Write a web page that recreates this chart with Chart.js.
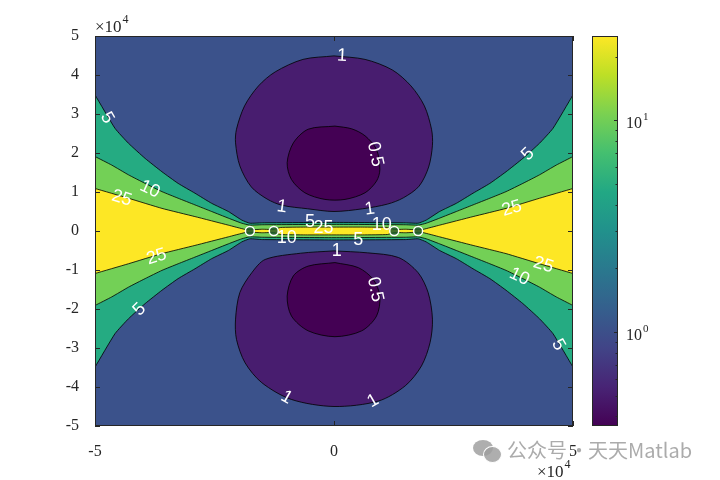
<!DOCTYPE html>
<html>
<head>
<meta charset="utf-8">
<script src="https://cdn.jsdelivr.net/npm/chart.js@4.4.1/dist/chart.umd.min.js"></script>
<style>
  html, body { margin: 0; padding: 0; background: #fff; }
  #wrap { position: relative; width: 720px; height: 480px; }
  .wm { position: absolute; font-family: "Noto Sans CJK SC", sans-serif; font-size: 20px; line-height: 20px; color: rgba(150,150,150,0.8); white-space: nowrap; }
  .bub { position: absolute; border-radius: 50%; background: rgba(160,160,160,0.85); }
</style>
</head>
<body>
<div id="wrap">
  <canvas id="contour" width="720" height="480"></canvas>
  <div class="bub" style="left:473px;top:440px;width:20px;height:16px;"></div>
  <div class="bub" style="left:483px;top:446px;width:17px;height:15px;border:1.5px solid #fff;"></div>
  <div class="wm" style="left:507px;top:440px;">公众号</div>
  <div class="wm" style="left:569px;top:440px;">·</div>
  <div class="wm" style="left:588px;top:440px;">天天Matlab</div>
</div>
<script>
// contour fill colours: <0.5, 0.5-1, 1-5, 5-10, 10-25, >25
const bandColors = ['#440154', '#481d6f', '#3b528b', '#25ab82', '#73d056', '#fde725'];

// contour polygons, x and y in units of 1e4
const fiveRegion = [[-5.2,3.9],[-5,3.49],[-4.58,2.63],[-4.3,2.25],[-3.95,1.86],[-3.6,1.52],[-3.26,1.22],[-2.91,0.97],[-2.56,0.71],[-2.21,0.5],[-1.93,0.28],[-1.76,0.2],[-1.5,0.21],[0,0.22],[1.5,0.21],[1.76,0.2],[1.93,0.28],[2.21,0.5],[2.56,0.71],[2.91,0.97],[3.26,1.22],[3.6,1.52],[3.95,1.86],[4.3,2.25],[4.58,2.63],[5,3.49],[5.2,3.9],
  [5.2,-3.9],[5,-3.49],[4.58,-2.63],[4.3,-2.25],[3.95,-1.86],[3.6,-1.52],[3.26,-1.22],[2.91,-0.97],[2.56,-0.71],[2.21,-0.5],[1.93,-0.28],[1.76,-0.2],[1.5,-0.22],[0,-0.23],[-1.5,-0.22],[-1.76,-0.2],[-1.93,-0.28],[-2.21,-0.5],[-2.56,-0.71],[-2.91,-0.97],[-3.26,-1.22],[-3.6,-1.52],[-3.95,-1.86],[-4.3,-2.25],[-4.58,-2.63],[-5,-3.49],[-5.2,-3.9],[-5.2,3.9]];
const tenRegion = [[-5.2,2.04],[-5,1.91],[-4.65,1.69],[-4.3,1.44],[-3.95,1.22],[-3.6,1.01],[-3.26,0.84],[-2.91,0.67],[-2.56,0.5],[-2.21,0.33],[-1.93,0.2],[-1.76,0.15],[-1.5,0.16],[0,0.17],[1.5,0.16],[1.76,0.15],[1.93,0.2],[2.21,0.33],[2.56,0.5],[2.91,0.67],[3.26,0.84],[3.6,1.01],[3.95,1.22],[4.3,1.44],[4.65,1.69],[5,1.91],[5.2,2.04],
  [5.2,-2.04],[5,-1.91],[4.65,-1.69],[4.3,-1.44],[3.95,-1.22],[3.6,-1.01],[3.26,-0.84],[2.91,-0.67],[2.56,-0.5],[2.21,-0.33],[1.93,-0.2],[1.76,-0.15],[1.5,-0.16],[0,-0.17],[-1.5,-0.16],[-1.76,-0.15],[-1.93,-0.2],[-2.21,-0.33],[-2.56,-0.5],[-2.91,-0.67],[-3.26,-0.84],[-3.6,-1.01],[-3.95,-1.22],[-4.3,-1.44],[-4.65,-1.69],[-5,-1.91],[-5.2,-2.04],[-5.2,2.04]];
const hiRegion = [[-5.2,1.16],[-5,1.09],[-4.3,0.84],[-3.6,0.58],[-2.91,0.37],[-2.21,0.15],[-1.86,0.04],[-1.76,0.03],[-1.5,0.045],[-1.26,0.04],[-1.12,0.09],[-0.6,0.1],[0,0.1],[0.6,0.1],[1.12,0.09],[1.26,0.04],[1.5,0.045],[1.76,0.03],[1.86,0.04],[2.21,0.15],[2.91,0.37],[3.6,0.58],[4.3,0.84],[5,1.09],[5.2,1.16],
  [5.2,-1.16],[5,-1.09],[4.3,-0.84],[3.6,-0.58],[2.91,-0.37],[2.21,-0.15],[1.86,-0.04],[1.76,-0.03],[1.5,-0.045],[1.26,-0.04],[1.12,-0.09],[0.6,-0.1],[0,-0.1],[-0.6,-0.1],[-1.12,-0.09],[-1.26,-0.04],[-1.5,-0.045],[-1.76,-0.03],[-1.86,-0.04],[-2.21,-0.15],[-2.91,-0.37],[-3.6,-0.58],[-4.3,-0.84],[-5,-1.09],[-5.2,-1.16],[-5.2,1.16]];
const upperOne = [[0,4.49],[0.65,4.4],[1.22,4.13],[1.61,3.72],[1.89,3.21],[2.04,2.61],[2.06,2.2],[1.98,1.64],[1.78,1.15],[1.45,0.85],[1.12,0.69],[0.6,0.57],[0,0.5],[-0.55,0.57],[-1.09,0.66],[-1.4,0.82],[-1.73,1.13],[-1.97,1.67],[-2.06,2.26],[-2.04,2.61],[-1.87,3.21],[-1.58,3.72],[-1.23,4.08],[-0.65,4.4],[0,4.49]];
const upperHalf = [[0.02,2.69],[0.37,2.62],[0.65,2.44],[0.89,2.09],[0.96,1.58],[0.89,1.28],[0.65,0.98],[0.23,0.81],[-0.19,0.81],[-0.61,0.98],[-0.89,1.32],[-0.98,1.75],[-0.85,2.26],[-0.54,2.61],[0.02,2.69]];
const lowerOne = [[0,-0.51],[0.7,-0.56],[1.35,-0.68],[1.76,-1.07],[1.97,-1.58],[2.06,-2.26],[2.01,-2.86],[1.83,-3.46],[1.49,-3.97],[0.93,-4.36],[0,-4.5],[-0.89,-4.32],[-1.51,-3.89],[-1.86,-3.38],[-2.04,-2.78],[-2.06,-2.26],[-1.97,-1.58],[-1.72,-1.07],[-1.44,-0.73],[-0.7,-0.57],[0,-0.51]];
const lowerHalf = [[0.02,-0.81],[0.51,-0.94],[0.82,-1.24],[0.96,-1.67],[0.89,-2.18],[0.58,-2.56],[0.02,-2.71],[-0.54,-2.56],[-0.89,-2.18],[-0.98,-1.67],[-0.85,-1.15],[-0.54,-0.9],[0.02,-0.81]];

// wire positions (marked with circles)
const wireX = [-1.76, -1.26, 1.26, 1.76];
const wireY = [0, 0, 0, 0];

// contour labels: x, y, text, angle (deg)
const contourLabels = [
  [0.17, 4.49, '1', 3], [0.86, 1.97, '0.5', 78], [-1.09, 0.62, '1', 8], [0.75, 0.56, '1', -8],
  [0.06, -0.51, '1', 0], [0.86, -1.5, '0.5', 78], [-0.99, -4.27, '1', 30], [0.82, -4.36, '1', -30],
  [-4.75, 2.9, '5', 60], [-3.85, 1.07, '10', 25], [-4.44, 0.84, '25', 17], [-3.71, -0.66, '25', -17], [-4.07, -2.01, '5', -45],
  [4.06, 1.97, '5', -45], [3.72, 0.58, '25', -17], [4.38, -0.87, '25', 17], [3.88, -1.17, '10', 25], [4.69, -2.92, '5', 60],
  [-0.5, 0.22, '5', 0], [-0.22, 0.08, '25', 0], [-0.99, -0.17, '10', 0], [1.0, 0.15, '10', 0], [0.51, -0.23, '5', 0]
];

const xTickVals = [-5, 0, 5];
const yTickVals = [-5, -4, -3, -2, -1, 0, 1, 2, 3, 4, 5];
const cbMin = 0.36, cbMax = 25;
const cbTicks = [0.4, 0.5, 0.6, 0.7, 0.8, 0.9, 1, 2, 3, 4, 5, 6, 7, 8, 9, 10, 20];
const cbLabelVals = [1, 10];
const cbLabelExp = ['0', '1'];

const viridis = ['#440154', '#482475', '#414487', '#355f8d', '#2a788e', '#21918c', '#22a884', '#44bf70', '#7ad151', '#bddf26', '#fde725'];

const axisColor = '#262626';
const serif = '"Liberation Serif", "Times New Roman", serif';

const toPts = arr => arr.map(p => ({ x: p[0], y: p[1] }));

const regions = [
  [fiveRegion, bandColors[3], 0.15],
  [tenRegion, bandColors[4], 0.15],
  [hiRegion, bandColors[5], 0.15],
  [upperOne, bandColors[1], 0.3],
  [upperHalf, bandColors[0], 0.3],
  [lowerOne, bandColors[1], 0.3],
  [lowerHalf, bandColors[0], 0.3]
];

const datasets = regions.map((r, i) => ({
  type: 'line',
  data: toPts(r[0]),
  backgroundColor: r[1],
  borderColor: '#000',
  borderWidth: 0.8,
  fill: 'shape',
  tension: r[2],
  pointRadius: 0,
  order: 50 - i
}));
datasets.push({
  type: 'scatter',
  data: wireX.map((v, i) => ({ x: v, y: wireY[i] })),
  pointRadius: 4.5,
  pointBorderColor: '#fff',
  pointBorderWidth: 1.5,
  pointBackgroundColor: 'rgba(30,90,45,0.85)',
  order: 0
});

const decor = {
  id: 'decor',
  beforeDatasetsDraw(chart) {
    const { ctx, chartArea: a } = chart;
    ctx.save();
    ctx.fillStyle = bandColors[2];
    ctx.fillRect(a.left, a.top, a.right - a.left, a.bottom - a.top);
    ctx.restore();
  },
  afterDatasetsDraw(chart) {
    const { ctx, scales: { x, y } } = chart;
    ctx.save();
    ctx.fillStyle = '#fff';
    ctx.font = '18px "Liberation Sans", Arial, sans-serif';
    ctx.textAlign = 'center';
    ctx.textBaseline = 'middle';
    contourLabels.forEach(l => {
      ctx.save();
      ctx.translate(x.getPixelForValue(l[0]), y.getPixelForValue(l[1]));
      ctx.rotate(l[3] * Math.PI / 180);
      ctx.fillText(l[2], 0, 0);
      ctx.restore();
    });
    ctx.restore();
  },
  afterDraw(chart) {
    const { ctx, chartArea: a, scales: { x, y, cb } } = chart;
    ctx.save();
    // box and inward ticks
    ctx.strokeStyle = axisColor;
    ctx.lineWidth = 1;
    ctx.strokeRect(a.left + 0.5, a.top + 0.5, a.right - a.left - 1, a.bottom - a.top - 1);
    ctx.beginPath();
    xTickVals.forEach(v => {
      const px = Math.round(x.getPixelForValue(v)) + 0.5;
      ctx.moveTo(px, a.bottom); ctx.lineTo(px, a.bottom - 5);
      ctx.moveTo(px, a.top); ctx.lineTo(px, a.top + 5);
    });
    yTickVals.forEach(v => {
      const py = Math.round(y.getPixelForValue(v)) + 0.5;
      ctx.moveTo(a.left, py); ctx.lineTo(a.left + 5, py);
      ctx.moveTo(a.right, py); ctx.lineTo(a.right - 5, py);
    });
    ctx.stroke();

    // exponent labels
    ctx.fillStyle = axisColor;
    ctx.textBaseline = 'alphabetic';
    ctx.textAlign = 'left';
    ctx.font = '17px ' + serif;
    let w = ctx.measureText('×10').width;
    ctx.fillText('×10', 95, 32);
    ctx.fillText('×10', 537, 477);
    ctx.font = '12px ' + serif;
    ctx.fillText('4', 96 + w, 23);
    ctx.fillText('4', 538 + w, 468);

    // colour bar
    const cl = 592, cr = 618;
    const ct = cb.getPixelForValue(cbMax), cbot = cb.getPixelForValue(cbMin);
    const g = ctx.createLinearGradient(0, cbot, 0, ct);
    viridis.forEach((c, i) => g.addColorStop(i / (viridis.length - 1), c));
    ctx.fillStyle = g;
    ctx.fillRect(cl, ct, cr - cl, cbot - ct);
    ctx.strokeStyle = axisColor;
    ctx.strokeRect(cl + 0.5, ct + 0.5, cr - cl - 1, cbot - ct - 1);
    ctx.beginPath();
    cbTicks.forEach(v => {
      const py = Math.round(cb.getPixelForValue(v)) + 0.5;
      const len = cbLabelVals.includes(v) ? 4 : 2.5;
      ctx.moveTo(cr, py); ctx.lineTo(cr - len, py);
    });
    ctx.stroke();
    ctx.fillStyle = axisColor;
    cbLabelVals.forEach((v, i) => {
      const py = cb.getPixelForValue(v);
      ctx.font = '16px ' + serif;
      const tw = ctx.measureText('10').width;
      ctx.fillText('10', 626, py + 8);
      ctx.font = '11px ' + serif;
      ctx.fillText(cbLabelExp[i], 627 + tw, py);
    });
    ctx.restore();
  }
};

new Chart(document.getElementById('contour'), {
  type: 'scatter',
  data: { datasets },
  options: {
    responsive: false,
    devicePixelRatio: 1,
    animation: false,
    events: [],
    layout: { padding: { top: 36, left: 0, right: 0, bottom: 0 } },
    plugins: { legend: { display: false }, tooltip: { enabled: false } },
    scales: {
      x: {
        type: 'linear', min: -5, max: 5,
        afterBuildTicks: s => { s.ticks = xTickVals.map(v => ({ value: v })); },
        afterFit: s => { s.height = 54; },
        grid: { display: false }, border: { display: false },
        ticks: { padding: 8, color: axisColor, font: { family: serif, size: 16 } }
      },
      y: {
        type: 'linear', min: -5, max: 5,
        afterBuildTicks: s => { s.ticks = yTickVals.map(v => ({ value: v })); },
        afterFit: s => { s.width = 95; },
        grid: { display: false }, border: { display: false },
        ticks: { padding: 8, color: axisColor, font: { family: serif, size: 16 } }
      },
      cb: {
        type: 'logarithmic', position: 'right', min: cbMin, max: cbMax,
        afterFit: s => { s.width = 147; },
        grid: { display: false }, border: { display: false },
        ticks: { display: false }
      }
    }
  },
  plugins: [decor]
});
</script>
</body>
</html>
